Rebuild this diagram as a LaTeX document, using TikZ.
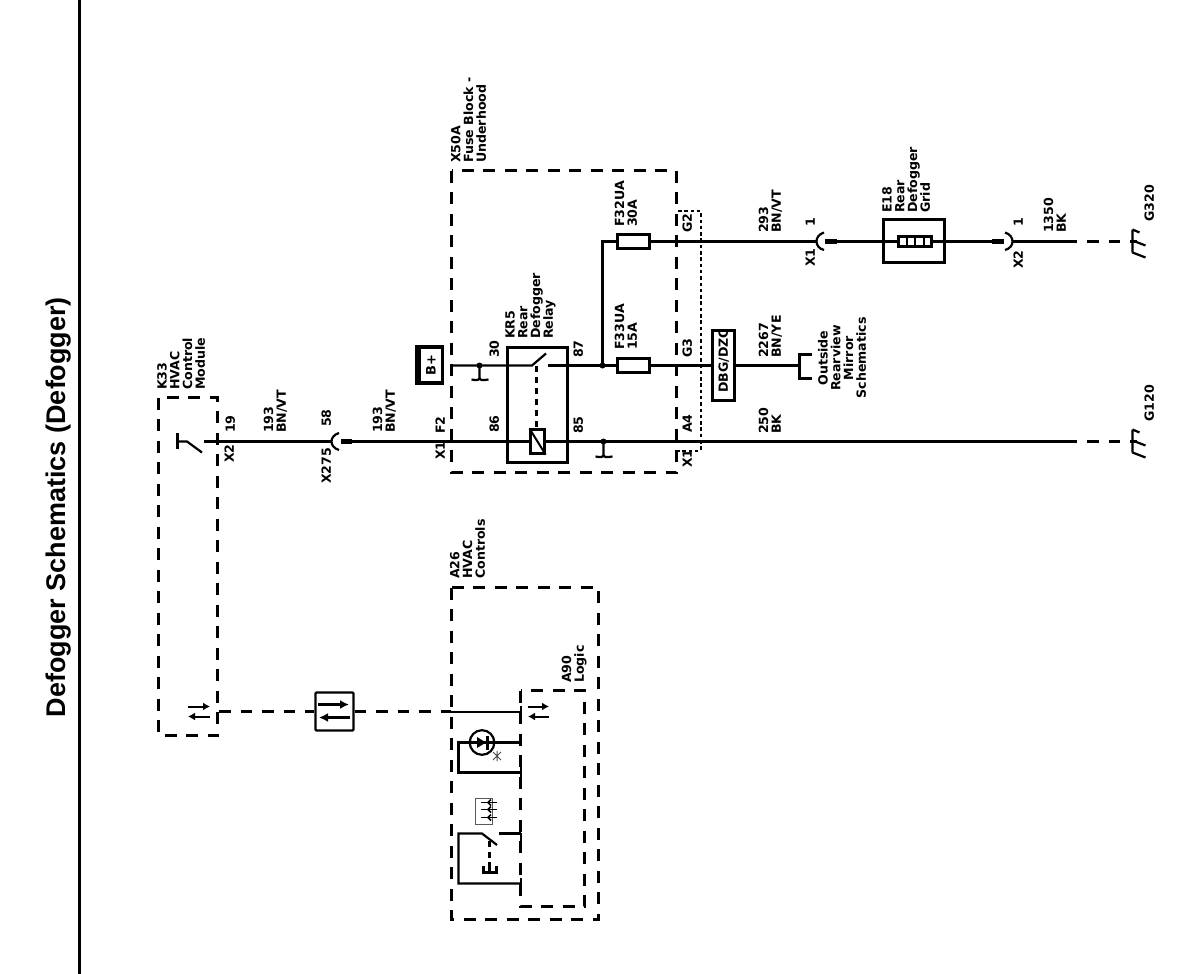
\documentclass[tikz,border=0pt]{standalone}
\usepackage{fontspec}
\setmainfont{DejaVu Sans}
\newfontfamily\titlefont{Liberation Sans}
\usetikzlibrary{arrows.meta}
\tikzset{
  lab/.style={rotate=90,align=left,inner sep=0pt,anchor=south west,text depth=0pt,
    font=\bfseries\fontsize{12.6}{12.7}\selectfont},
  labc/.style={lab,align=center,anchor=south},
  wire/.style={line width=2.2pt},
  thinw/.style={line width=2pt},
  dbox/.style={line width=2.3pt,dash pattern=on 12pt off 9.5pt},
  dotbox/.style={line width=2pt,dash pattern=on 3.5pt off 2.8pt},
  solidbox/.style={draw,line width=2.2pt,fill=white,inner sep=0pt},
  plug/.style={line width=5pt},
  tip/.style={line width=2.2pt,-{Latex[length=9pt,width=9pt]}},
  tipsmall/.style={line width=2pt,-{Latex[length=7pt,width=8pt]}},
  dashw/.style={line width=2.2pt,dash pattern=on 11.5pt off 10pt}
}
\newcommand{\gndsym}[2]{%
  \draw[line width=2.2pt,shift={(#1,#2)}] (0,-12) -- (0,11) (0,-12) -- (7,-9) (0,-1) -- (13,4) (0,11) -- (13,16);}
\newcommand{\splicesym}[3]{%
  \fill[shift={(#1,#2)}] (0,0) circle (3pt);
  \draw[wire,shift={(#1,#2)}] (0,0) -- (0,#3) (-8,#3+2) .. controls (-3,#3+3) and (0,#3+3) .. (0,#3) .. controls (0,#3+3) and (3,#3+3) .. (9,#3+2);}
\begin{document}
\begin{tikzpicture}[x=1pt,y=-1pt]
\useasboundingbox (0,0) rectangle (1200,974);
% frame and title
\coordinate (frameT) at (79.5,0);
\coordinate (frameB) at (79.5,974);
\draw[line width=2.3pt] (frameT) -- (frameB);
\node[rotate=90,inner sep=0pt,anchor=base,font=\titlefont\bfseries\fontsize{27}{30}\selectfont] (title) at (65,507) {Defogger Schematics (Defogger)};

% dashed module boxes
\draw[dbox] (158.5,397.5) rectangle (217.5,735.5);
\draw[dbox] (451.5,170.5) rectangle (676.5,472.5);
\draw[dbox] (451.5,587.5) rectangle (598.5,919.5);
\draw[dbox] (520.5,690.5) rectangle (584.5,906.5);
\draw[dotbox] (678,210.5) -- (700.5,210.5) -- (700.5,450.5) -- (678,450.5);

% named coordinates for wire ends
\coordinate (w1s) at (204,441.5);
\coordinate (x275a) at (331,441.5);
\coordinate (x275b) at (341,441.5);
\coordinate (x275c) at (352,441.5);
\coordinate (w1e) at (1077,441.5);
\coordinate (w1d) at (1087,441.5);
\coordinate (w1g) at (1137,441.5);
\coordinate (w2s) at (451.5,365.5);
\coordinate (w2k) at (532,365.5);
\coordinate (w2t) at (546,353.5);
\coordinate (w2r) at (548,365.5);
\coordinate (jn) at (602.5,365.5);
\coordinate (jt) at (602.5,241.5);
\coordinate (x1a) at (816,241.5);
\coordinate (x1b) at (825,241.5);
\coordinate (x1c) at (837,241.5);
\coordinate (x2a) at (992,241.5);
\coordinate (x2b) at (1004,241.5);
\coordinate (x2c) at (1013,241.5);
\coordinate (w3e) at (1077,241.5);
\coordinate (w3d) at (1087,241.5);
\coordinate (w3g) at (1137,241.5);
\coordinate (brk) at (799.5,365.5);

% wires
\draw[wire] (w1s) -- (x275a);
\draw[plug] (x275b) -- (x275c);
\draw[wire] (x275c) -- (w1e);
\draw[dashw] (w1d) -- (w1g);
\draw[wire] (w2s) -- (w2k) -- (w2t);
\draw[wire] (w2r) -- (jn);
\draw[wire] (jn) -- (jt) -- (x1a);
\draw[plug] (x1b) -- (x1c);
\draw[wire] (x1c) -- (x2a);
\draw[plug] (x2a) -- (x2b);
\draw[wire] (x2c) -- (w3e);
\draw[dashw] (w3d) -- (w3g);
% connector arcs
\draw[wire] (339,433) .. controls (329,436) and (329,447) .. (339,450);
\draw[wire] (824,232.5) .. controls (814,235.5) and (814,247.5) .. (824,250);
\draw[wire] (1005,232.5) .. controls (1015,235.5) and (1015,247.5) .. (1005,250);
% splices
\fill (jn) circle (3pt);
\splicesym{479.5}{365.5}{12}
\splicesym{603.5}{441.5}{13}

% relay
\node[draw,line width=2.2pt,minimum width=60pt,minimum height=115pt,inner sep=0pt] (relay) at (537.5,405) {};
\draw[wire,dash pattern=on 6pt off 5pt] (536.5,365.5) -- (536.5,429);
\node[solidbox,minimum width=14pt,minimum height=24pt] (coil) at (537.5,441.5) {};
\draw[thinw] (coil.north west) -- (coil.south east);

% fuses, etc.
\node[solidbox,minimum width=32pt,minimum height=14pt] (f32) at (633.5,241.5) {};
\node[solidbox,minimum width=32pt,minimum height=14pt] (f33) at (633.5,365.5) {};
\node[solidbox,minimum width=22pt,minimum height=70pt] (dbg) at (723.5,365.5) {};
\draw[wire] (jn) -- (f33.west);
\draw[wire] (f33.east) -- (dbg.west);
\draw[wire] (dbg.east) -- (brk);
\draw[wire] (812,354.5) -- (799.5,354.5) -- (799.5,378.5) -- (812,378.5);

% E18 grid
\node[draw,line width=2.2pt,minimum width=61pt,minimum height=43pt,inner sep=0pt] (e18) at (914,241) {};
\node[solidbox,minimum width=33pt,minimum height=10pt] (grid) at (915,241.5) {};
\draw[thinw] (906.5,236.5) -- (906.5,246.5) (914.5,236.5) -- (914.5,246.5) (923.5,236.5) -- (923.5,246.5);

% grounds
\gndsym{1132.5}{241.5}
\gndsym{1132.5}{441.5}

% B+
\node[fill=black,minimum width=29.5pt,minimum height=40.5pt,inner sep=0pt] (bplus) at (429.7,365.2) {};
\node[fill=white,minimum width=32pt,minimum height=20pt,inner sep=0pt,rotate=90,font=\bfseries\fontsize{13}{14}\selectfont] (bplustxt) at (431,365) {B+};

% K33 switch
\draw[wire] (177.5,433) -- (177.5,449);
\draw[wire] (177.5,441.5) -- (187,441.5) -- (202,452.5);
% K33 arrows
\draw[tipsmall] (188,706.5) -- (210,706.5);
\draw[tipsmall] (210,716.5) -- (188,716.5);

% bus box
\node[solidbox,rounded corners=1pt,minimum width=38pt,minimum height=38pt] (bus) at (334.5,711.5) {};
\draw[tip] (318,704.5) -- (349,704.5);
\draw[tip] (350,717.5) -- (319,717.5);
\coordinate (k33e) at (219,711.5);
\coordinate (a26w) at (451,711.5);
\coordinate (a90w) at (520.5,711.5);
\draw[dashw] (k33e) -- (bus.west);
\draw[dashw] (bus.east) -- (a26w);
\draw[thinw] (a26w) -- (a90w);
\draw[thinw] (520.5,706) -- (520.5,717);
% A90 arrows
\draw[tipsmall] (528,706.5) -- (549,706.5);
\draw[tipsmall] (549,716.5) -- (528,716.5);

% LED
\draw[wire] (520.5,742.5) -- (458.5,742.5) -- (458.5,772.5) -- (520.5,772.5);
\draw[thinw] (520.5,767) -- (520.5,777);
\draw[wire] (482,742.5) circle (12.3pt);
\fill (477,737) -- (486,742.5) -- (477,748) -- cycle;
\draw[line width=2.2pt] (487.5,735.5) -- (487.5,749.5);
\draw[line width=1pt,gray!60!black] (493,752) -- (501,760) (501,752) -- (493,760) (497,751) -- (497,761);

% heated glass icon
\draw[line width=1.2pt,gray!70!black] (492.5,798.5) -- (475.5,798.5) -- (475.5,824.5) -- (492.5,824.5) -- (492.5,798.5);
\foreach \yy in {802.5,809.5,817.5}{
  \draw[line width=1.3pt] (481,\yy) -- (497,\yy);
  \draw[line width=1.5pt] (491,\yy-3) -- (488,\yy) -- (491,\yy+3);
}

% A26 switch
\draw[wire] (520.5,883.5) -- (458.5,883.5) -- (458.5,833.5) -- (482,833.5) -- (497,845);
\draw[wire] (499,833.5) -- (520.5,833.5);
\draw[thinw] (520.5,833) -- (520.5,843);
\draw[thinw] (520.5,878) -- (520.5,888);
\draw[wire,dash pattern=on 6pt off 4.5pt] (489.5,841) -- (489.5,866);
\draw[wire] (483.5,866) -- (483.5,872.5) -- (496.5,872.5) -- (496.5,866);
\draw[wire] (489.5,866) -- (489.5,872.5);

% labels
\node[lab] (k33) at (205,390) {K33\\HVAC\\Control\\Module};
\node[lab] (t193a) at (286,433) {193\\BN/VT};
\node[lab] (t19) at (235,433) {19};
\node[lab] (tx2a) at (234,463) {X2};
\node[lab] (t58) at (331,427) {58};
\node[lab] (tx275) at (331,484) {X275};
\node[lab] (t193b) at (395,433) {193\\BN/VT};
\node[lab] (tf2) at (445,434) {F2};
\node[lab] (tx1a) at (445,460) {X1};
\node[lab] (t30) at (499,358) {30};
\node[lab] (t86) at (499,433) {86};
\node[lab] (t87) at (583,358) {87};
\node[lab] (t85) at (583,434) {85};
\node[lab] (kr5) at (553,339) {KR5\\Rear\\Defogger\\Relay};
\node[lab] (x50a) at (486,163) {X50A\\Fuse Block -\\Underhood};
\node[lab] (tf32) at (637,227) {F32UA\\30A};
\node[lab] (tf33) at (637,350) {F33UA\\15A};
\node[lab] (tg2) at (692,233) {G2};
\node[lab] (tg3) at (692,358) {G3};
\node[lab] (ta4) at (692,433) {A4};
\node[lab] (tx1b) at (692,468) {X1};
\node[lab] (t293) at (781,233) {293\\BN/VT};
\node[lab] (t2267) at (781,358) {2267\\BN/YE};
\node[lab] (t250) at (781,434) {250\\BK};
\node[lab] (tdbg) at (728,393) {DBG/DZC};
\node[labc] (tout) at (866,358) {Outside\\Rearview\\Mirror\\Schematics};
\node[lab] (te18) at (930,213) {E18\\Rear\\Defogger\\Grid};
\node[lab] (t1a) at (815,227) {1};
\node[lab] (tx1c) at (815,267) {X1};
\node[lab] (t1b) at (1023,227) {1};
\node[lab] (tx2b) at (1023,269) {X2};
\node[lab] (t1350) at (1066,233) {1350\\BK};
\node[lab] (tg320) at (1154,222) {G320};
\node[lab] (tg120) at (1154,422) {G120};
\node[lab] (a26) at (485,579) {A26\\HVAC\\Controls};
\node[lab] (a90) at (584,683) {A90\\Logic};
\end{tikzpicture}
\end{document}
